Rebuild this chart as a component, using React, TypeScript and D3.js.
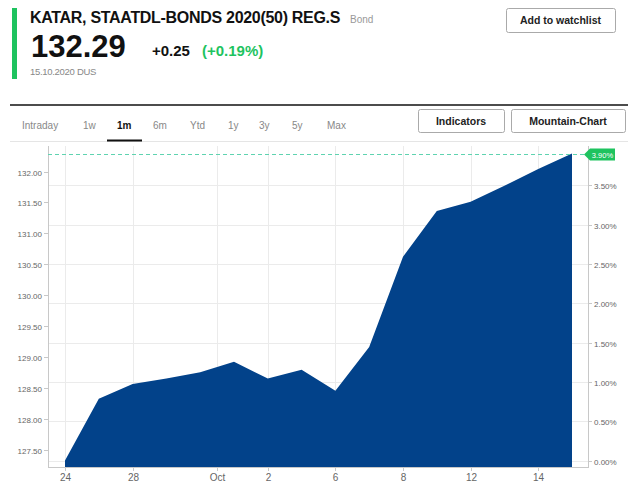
import React, { useEffect, useRef } from 'react';
import * as d3 from 'd3';

// trading days shown on the 1m chart
const dates = [
  '2020-09-24', '2020-09-25', '2020-09-28', '2020-09-29', '2020-09-30',
  '2020-10-01', '2020-10-02', '2020-10-05', '2020-10-06', '2020-10-07',
  '2020-10-08', '2020-10-09', '2020-10-12', '2020-10-13', '2020-10-14',
  '2020-10-15',
];
const prices = [
  127.32, 128.32, 128.56, 128.65, 128.75, 128.92, 128.65, 128.79,
  128.45, 129.16, 130.62, 131.36, 131.51, 131.77, 132.04, 132.29,
];
const xTickLabels = ['24', '28', 'Oct', '2', '6', '8', '12', '14'];
const priceTicks = [127.5, 128, 128.5, 129, 129.5, 130, 130.5, 131, 131.5, 132];
const pctTicks = [0, 0.5, 1, 1.5, 2, 2.5, 3, 3.5];
const tabs = ['Intraday', '1w', '1m', '6m', 'Ytd', '1y', '3y', '5y', 'Max'];
const tabX = [22, 83, 117, 153, 190, 228, 259, 292, 327];

const FONT = '"Liberation Sans", Arial, sans-serif';

const App: React.FC = () => {
  const svgRef = useRef<SVGSVGElement>(null);

  useEffect(() => {
    if (!svgRef.current) return;
    const svg = d3.select(svgRef.current);
    svg.selectAll('*').remove();

    const plot = { left: 48, right: 588, top: 146, bottom: 467 };

    const x = d3.scaleLinear().domain([0, dates.length - 1]).range([65, 572]);
    const y = d3.scaleLinear().domain([127.5, 132]).range([449.5, 171.5]);
    const base = prices[0];
    const yPct = d3.scaleLinear()
      .domain([0, 3.5])
      .range([y(base), y(base * 1.035)]);

    // tick index for each label: day-of-month ticks sit on the date, month tick between months
    const tickIdx = xTickLabels.map(lbl => {
      if (isNaN(+lbl)) {
        const i = dates.findIndex(d => d.slice(5, 7) === '10');
        return i - 0.5;
      }
      return dates.findIndex(d => +d.slice(8) === +lbl);
    });

    // ---------- header ----------
    const g = svg.append('g').attr('font-family', FONT);
    g.append('rect').attr('x', 12).attr('y', 8).attr('width', 5).attr('height', 71).attr('fill', '#1ec35f');
    g.append('text').attr('x', 30).attr('y', 23)
      .attr('font-size', 16).attr('font-weight', 700).attr('fill', '#111')
      .attr('letter-spacing', -0.3)
      .text('KATAR, STAATDL-BONDS 2020(50) REG.S');
    g.append('text').attr('x', 350).attr('y', 23)
      .attr('font-size', 10).attr('fill', '#999').text('Bond');
    g.append('text').attr('x', 31).attr('y', 57)
      .attr('font-size', 31).attr('font-weight', 700).attr('fill', '#111')
      .text(d3.format('.2f')(prices[prices.length - 1]));
    const chg = prices[prices.length - 1] - prices[prices.length - 2];
    g.append('text').attr('x', 152).attr('y', 56)
      .attr('font-size', 15).attr('font-weight', 700).attr('fill', '#111')
      .text('+' + d3.format('.2f')(chg));
    g.append('text').attr('x', 202).attr('y', 56)
      .attr('font-size', 15).attr('font-weight', 700).attr('fill', '#1ec35f')
      .text('(+' + d3.format('.2f')(chg / prices[prices.length - 2] * 100) + '%)');
    g.append('text').attr('x', 30).attr('y', 75)
      .attr('font-size', 9.5).attr('fill', '#888').attr('letter-spacing', -0.3)
      .text('15.10.2020 DUS');

    const button = (x0: number, y0: number, w: number, h: number, label: string) => {
      g.append('rect').attr('x', x0 + 0.5).attr('y', y0 + 0.5).attr('width', w).attr('height', h)
        .attr('rx', 2).attr('fill', '#fff').attr('stroke', '#aaa');
      g.append('text').attr('x', x0 + w / 2).attr('y', y0 + h / 2 + 4)
        .attr('text-anchor', 'middle').attr('font-size', 10.5).attr('font-weight', 700)
        .attr('fill', '#222').text(label);
    };
    button(506, 8, 109, 24, 'Add to watchlist');

    // ---------- tabs ----------
    g.append('line').attr('x1', 10).attr('x2', 628).attr('y1', 105).attr('y2', 105)
      .attr('stroke', '#111').attr('stroke-width', 1.5);
    tabs.forEach((t, i) => {
      g.append('text').attr('x', tabX[i]).attr('y', 129)
        .attr('font-size', 10).attr('fill', t === '1m' ? '#111' : '#888')
        .attr('font-weight', t === '1m' ? 700 : 400)
        .text(t);
    });
    g.append('line').attr('x1', 10).attr('x2', 628).attr('y1', 141.5).attr('y2', 141.5)
      .attr('stroke', '#e5e5e5');
    g.append('line').attr('x1', 107).attr('x2', 142).attr('y1', 140.5).attr('y2', 140.5)
      .attr('stroke', '#111').attr('stroke-width', 2);
    button(418, 109, 86, 23, 'Indicators');
    button(511, 109, 114, 23, 'Mountain-Chart');

    // ---------- grid ----------
    const grid = svg.append('g').attr('stroke', '#ebebeb').attr('stroke-width', 1);
    pctTicks.forEach(p => {
      grid.append('line').attr('x1', plot.left).attr('x2', plot.right)
        .attr('y1', Math.round(yPct(p)) + 0.5).attr('y2', Math.round(yPct(p)) + 0.5);
    });
    tickIdx.forEach(i => {
      grid.append('line').attr('x1', Math.round(x(i)) + 0.5).attr('x2', Math.round(x(i)) + 0.5)
        .attr('y1', plot.top).attr('y2', plot.bottom);
    });

    // ---------- area ----------
    const area = d3.area<number>()
      .x((_, i) => x(i))
      .y0(plot.bottom)
      .y1(d => y(d));
    svg.append('path').datum(prices).attr('fill', '#02428a').attr('d', area);

    // ---------- axes ----------
    const axisColor = '#c8c8c8';
    const ax = svg.append('g').attr('font-family', FONT);
    ax.append('line').attr('x1', plot.left + 0.5).attr('x2', plot.left + 0.5)
      .attr('y1', plot.top).attr('y2', plot.bottom).attr('stroke', axisColor);
    ax.append('line').attr('x1', plot.right + 0.5).attr('x2', plot.right + 0.5)
      .attr('y1', plot.top).attr('y2', plot.bottom).attr('stroke', axisColor);
    ax.append('line').attr('x1', plot.left).attr('x2', plot.right + 1)
      .attr('y1', plot.bottom + 0.5).attr('y2', plot.bottom + 0.5).attr('stroke', axisColor);

    priceTicks.forEach(p => {
      const yy = Math.round(y(p)) + 0.5;
      ax.append('line').attr('x1', plot.left - 4).attr('x2', plot.left)
        .attr('y1', yy).attr('y2', yy).attr('stroke', axisColor);
      ax.append('text').attr('x', plot.left - 6).attr('y', yy + 3)
        .attr('text-anchor', 'end').attr('font-size', 8).attr('fill', '#666')
        .text(d3.format('.2f')(p));
    });
    pctTicks.forEach(p => {
      const yy = Math.round(yPct(p)) + 0.5;
      ax.append('line').attr('x1', plot.right).attr('x2', plot.right + 4)
        .attr('y1', yy).attr('y2', yy).attr('stroke', axisColor);
      ax.append('text').attr('x', plot.right + 6).attr('y', yy + 3)
        .attr('font-size', 8).attr('fill', '#666')
        .text(d3.format('.2f')(p) + '%');
    });
    tickIdx.forEach((i, k) => {
      const xx = Math.round(x(i)) + 0.5;
      ax.append('line').attr('x1', xx).attr('x2', xx)
        .attr('y1', plot.bottom).attr('y2', plot.bottom + 4).attr('stroke', axisColor);
      ax.append('text').attr('x', xx).attr('y', plot.bottom + 14)
        .attr('text-anchor', 'middle').attr('font-size', 10).attr('fill', '#666')
        .text(xTickLabels[k]);
    });

    // ---------- last price marker ----------
    const last = prices[prices.length - 1];
    const ly = Math.round(y(last)) + 0.5;
    svg.append('line').attr('x1', plot.left).attr('x2', plot.right)
      .attr('y1', ly).attr('y2', ly)
      .attr('stroke', '#5fd3b0').attr('stroke-dasharray', '4,3');
    const lastPct = (last / base - 1) * 100;
    svg.append('path')
      .attr('d', `M${plot.right - 4},${ly} L${plot.right + 2},${ly - 6} H${plot.right + 27} V${ly + 6} H${plot.right + 2} Z`)
      .attr('fill', '#1ec35f');
    svg.append('text').attr('x', plot.right + 14.5).attr('y', ly + 3)
      .attr('text-anchor', 'middle').attr('font-family', FONT)
      .attr('font-size', 7.5).attr('fill', '#fff')
      .text(d3.format('.2f')(lastPct) + '%');
  }, []);

  return (
    <svg
      ref={svgRef}
      width={628}
      height={493}
      viewBox="0 0 628 493"
      style={{ position: 'absolute', left: 0, top: 0, background: '#fff' }}
    />
  );
};

export default App;
